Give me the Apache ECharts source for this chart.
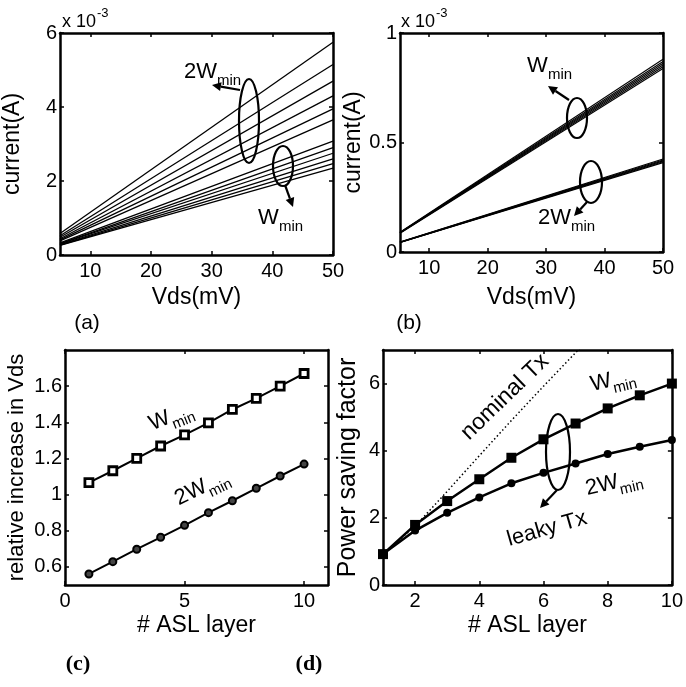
<!DOCTYPE html>
<html>
<head>
<meta charset="utf-8">
<script src="https://cdn.jsdelivr.net/npm/echarts@6/dist/echarts.min.js"></script>
<style>
html,body{margin:0;padding:0;background:#fff;}
#c{width:686px;height:687px;}
</style>
</head>
<body>
<div id="c"></div>
<script>
// ---------- DATA ----------
// (a) current (x 10^-3 A) vs Vds (mV), lines from Vds=5 to Vds=50
const vdsEnds = [5, 50];
const a2WStart = [0.58, 0.52, 0.48, 0.44, 0.41, 0.38];
const a2WEnd   = [5.75, 5.15, 4.70, 4.30, 3.95, 3.65];
const aWStart  = [0.33, 0.31, 0.30, 0.28, 0.27, 0.26];
const aWEnd    = [3.08, 2.90, 2.75, 2.60, 2.47, 2.35];
// (b)
const bWStart  = [0.090, 0.089, 0.088, 0.088, 0.087, 0.086];
const bWEnd    = [0.880, 0.870, 0.862, 0.854, 0.846, 0.838];
const b2WStart = [0.045, 0.045, 0.044, 0.044, 0.043];
const b2WEnd   = [0.425, 0.420, 0.416, 0.412, 0.408];
// (c) relative increase in Vds vs # ASL layer
const layers = [1, 2, 3, 4, 5, 6, 7, 8, 9, 10];
const cWmin  = [1.066, 1.132, 1.200, 1.269, 1.330, 1.397, 1.471, 1.532, 1.600, 1.670];
const c2Wmin = [0.561, 0.629, 0.698, 0.764, 0.830, 0.900, 0.966, 1.035, 1.103, 1.169];
// (d) power saving factor vs # ASL layer
const dWmin  = [0.92, 1.79, 2.50, 3.15, 3.79, 4.34, 4.81, 5.26, 5.65, 6.00];
const d2Wmin = [0.92, 1.62, 2.15, 2.61, 3.03, 3.34, 3.62, 3.90, 4.12, 4.32];
const nominalX = [1, 2, 3, 4, 5, 6, 7, 8];
const nominalY = [0.92, 1.75, 2.79, 3.85, 4.90, 5.92, 6.92, 7.95];
// tick labels
const abXTicks = [10, 20, 30, 40, 50];
const aYTicks = [0, 2, 4, 6];
const bYTicks = [0, 0.5, 1];
const cXTicks = [0, 5, 10];
const cYTicks = [0.6, 0.8, 1.0, 1.2, 1.4, 1.6];
const dXTicks = [2, 4, 6, 8, 10];
const dYTicks = [0, 2, 4, 6];

// ---------- CHART ----------
const FONT = 'Liberation Sans';
const chart = echarts.init(document.getElementById('c'), null, {renderer: 'canvas'});

const grids = [
  {left: 60, top: 33, width: 273, height: 222},
  {left: 400, top: 33, width: 263, height: 219},
  {left: 65, top: 350, width: 263, height: 235},
  {left: 383, top: 350, width: 291, height: 235}
];

function mkX(grid, min, max, ticks, name, nameGap, mirror) {
  return {
    type: 'value', gridIndex: grid, min: min, max: max,
    position: mirror ? 'top' : 'bottom',
    splitLine: {show: false},
    axisLine: {show: true, onZero: false, lineStyle: {color: '#000', width: 2.5}},
    axisTick: {show: true, inside: true, length: 4, customValues: ticks, lineStyle: {color: '#000', width: 1.5}},
    axisLabel: {show: !mirror, customValues: ticks, margin: 6, color: '#000', fontFamily: FONT, fontSize: 20},
    name: mirror ? '' : name, nameLocation: 'middle', nameGap: nameGap,
    nameTextStyle: {color: '#000', fontFamily: FONT, fontSize: 23}
  };
}
function mkY(grid, min, max, ticks, name, nameGap, mirror, fmt, nameSize) {
  return {
    type: 'value', gridIndex: grid, min: min, max: max,
    position: mirror ? 'right' : 'left',
    splitLine: {show: false},
    axisLine: {show: true, onZero: false, lineStyle: {color: '#000', width: 2.5}},
    axisTick: {show: true, inside: true, length: 4, customValues: ticks, lineStyle: {color: '#000', width: 1.5}},
    axisLabel: {show: !mirror, customValues: ticks, margin: 3, color: '#000', fontFamily: FONT, fontSize: 20,
      formatter: fmt || (v => String(v))},
    name: mirror ? '' : name, nameLocation: 'middle', nameGap: nameGap, nameRotate: 90,
    nameTextStyle: {color: '#000', fontFamily: FONT, fontSize: nameSize || 23}
  };
}

const xAxes = [
  mkX(0, 5, 50, abXTicks, 'Vds(mV)', 31, false), mkX(0, 5, 50, abXTicks, '', 0, true),
  mkX(1, 5, 50, abXTicks, 'Vds(mV)', 34, false), mkX(1, 5, 50, abXTicks, '', 0, true),
  mkX(2, 0, 11, cXTicks, '# ASL layer', 29, false), mkX(2, 0, 11, cXTicks, '', 0, true),
  mkX(3, 1, 10, dXTicks, '# ASL layer', 29, false), mkX(3, 1, 10, dXTicks, '', 0, true)
];
const yAxes = [
  mkY(0, 0, 6, aYTicks, 'current(A)', 36, false), mkY(0, 0, 6, aYTicks, '', 0, true),
  mkY(1, 0, 1, bYTicks, 'current(A)', 34, false), mkY(1, 0, 1, bYTicks, '', 0, true),
  mkY(2, 0.5, 1.8, cYTicks, 'relative increase in Vds', 37, false, v => (Math.abs(v - 1) < 1e-9 ? '1' : v.toFixed(1)), 22), mkY(2, 0.5, 1.8, cYTicks, '', 0, true),
  mkY(3, 0, 7, dYTicks, 'Power saving factor', 22, false, null, 25), mkY(3, 0, 7, dYTicks, '', 0, true)
];

const series = [];
function addLines(starts, ends, xi, yi, w) {
  for (let i = 0; i < starts.length; i++) {
    series.push({
      type: 'line', xAxisIndex: xi, yAxisIndex: yi, showSymbol: false, silent: true,
      data: [[vdsEnds[0], starts[i]], [vdsEnds[1], ends[i]]],
      lineStyle: {color: '#000', width: w}
    });
  }
}
addLines(a2WStart, a2WEnd, 0, 0, 1.3);
addLines(aWStart, aWEnd, 0, 0, 1.3);
addLines(bWStart, bWEnd, 2, 2, 1.1);
addLines(b2WStart, b2WEnd, 2, 2, 1.1);

series.push({
  type: 'line', xAxisIndex: 4, yAxisIndex: 4, symbol: 'rect', symbolSize: 8,
  data: layers.map((x, i) => [x, cWmin[i]]),
  lineStyle: {color: '#000', width: 2},
  itemStyle: {color: '#fff', borderColor: '#000', borderWidth: 2.8}
});
series.push({
  type: 'line', xAxisIndex: 4, yAxisIndex: 4, symbol: 'circle', symbolSize: 7,
  data: layers.map((x, i) => [x, c2Wmin[i]]),
  lineStyle: {color: '#000', width: 2},
  itemStyle: {color: '#444', borderColor: '#000', borderWidth: 2}
});
series.push({
  type: 'line', xAxisIndex: 6, yAxisIndex: 6, showSymbol: false, clip: true,
  data: nominalX.map((x, i) => [x, nominalY[i]]),
  lineStyle: {color: '#000', width: 1.5, type: [1.5, 2.5]}
});
series.push({
  type: 'line', xAxisIndex: 6, yAxisIndex: 6, symbol: 'rect', symbolSize: 10,
  data: layers.map((x, i) => [x, dWmin[i]]),
  lineStyle: {color: '#000', width: 2.5},
  itemStyle: {color: '#000'}
});
series.push({
  type: 'line', xAxisIndex: 6, yAxisIndex: 6, symbol: 'circle', symbolSize: 8,
  data: layers.map((x, i) => [x, d2Wmin[i]]),
  lineStyle: {color: '#000', width: 2.5},
  itemStyle: {color: '#000'}
});

// ---------- ANNOTATIONS ----------
// text with subscript, group anchored at left-middle of main text
function subLabel(x, y, main, sub, rot, mainW) {
  return {
    type: 'group', x: x, y: y, rotation: (rot || 0) * Math.PI / 180,
    children: [
      {type: 'text', x: 0, y: 0, style: {text: main, fill: '#000', font: '22px "' + FONT + '"', textVerticalAlign: 'middle'}},
      {type: 'text', x: mainW, y: 9, style: {text: sub, fill: '#000', font: '15px "' + FONT + '"', textVerticalAlign: 'middle'}}
    ]
  };
}
function ell(cx, cy, rx, ry) {
  return {type: 'ellipse', shape: {cx: cx, cy: cy, rx: rx, ry: ry}, style: {fill: 'none', stroke: '#000', lineWidth: 2.2}};
}
function arrow(x1, y1, x2, y2) {
  const ang = Math.atan2(y2 - y1, x2 - x1);
  const L = 9, W = 4.5;
  const bx = x2 - L * Math.cos(ang), by = y2 - L * Math.sin(ang);
  const px = -Math.sin(ang) * W, py = Math.cos(ang) * W;
  return [
    {type: 'line', shape: {x1: x1, y1: y1, x2: bx, y2: by}, style: {stroke: '#000', lineWidth: 2.2}},
    {type: 'polygon', shape: {points: [[x2, y2], [bx + px, by + py], [bx - px, by - py]]}, style: {fill: '#000'}}
  ];
}
const W_W = 21, W_2W = 33;

const graphics = [].concat(
  // exponents
  [
    {type: 'text', x: 62, y: 22, style: {text: 'x 10', fill: '#000', font: '18px "' + FONT + '"', textVerticalAlign: 'middle'}},
    {type: 'text', x: 97, y: 13, style: {text: '-3', fill: '#000', font: '13px "' + FONT + '"', textVerticalAlign: 'middle'}},
    {type: 'text', x: 401, y: 22, style: {text: 'x 10', fill: '#000', font: '18px "' + FONT + '"', textVerticalAlign: 'middle'}},
    {type: 'text', x: 436, y: 13, style: {text: '-3', fill: '#000', font: '13px "' + FONT + '"', textVerticalAlign: 'middle'}}
  ],
  // panel (a)
  [subLabel(184, 72, '2W', 'min', 0, W_2W), ell(249, 121, 10, 42), ell(283, 166, 10, 20),
   subLabel(258, 218, 'W', 'min', 0, W_W)],
  arrow(240, 90, 212, 85),
  arrow(285, 185, 293, 207),
  // panel (b)
  [subLabel(527, 66, 'W', 'min', 0, W_W), ell(577, 118, 10, 20), ell(591, 182, 11, 21),
   subLabel(538, 218, '2W', 'min', 0, W_2W)],
  arrow(569, 100, 548, 86),
  arrow(587, 202, 574, 216),
  // panel (c)
  [subLabel(150, 425, 'W', 'min', 22, W_W), subLabel(176, 500, '2W', 'min', 26, W_2W)],
  // panel (d)
  [{type: 'text', x: 505, y: 397, rotation: 44 * Math.PI / 180,
    style: {text: 'nominal Tx', fill: '#000', font: '23px "' + FONT + '"', textAlign: 'center', textVerticalAlign: 'middle'}},
   subLabel(591, 385, 'W', 'min', 13, W_W), subLabel(586, 489, '2W', 'min', 13, W_2W),
   ell(558, 452, 12, 38),
   {type: 'text', x: 547, y: 529, rotation: 16 * Math.PI / 180,
    style: {text: 'leaky Tx', fill: '#000', font: '22px "' + FONT + '"', textAlign: 'center', textVerticalAlign: 'middle'}}],
  arrow(557, 490, 540, 508),
  // panel labels
  [
    {type: 'text', x: 87, y: 323, style: {text: '(a)', fill: '#000', font: '21px "' + FONT + '"', textAlign: 'center', textVerticalAlign: 'middle'}},
    {type: 'text', x: 409, y: 323, style: {text: '(b)', fill: '#000', font: '21px "' + FONT + '"', textAlign: 'center', textVerticalAlign: 'middle'}},
    {type: 'text', x: 78, y: 664, style: {text: '(c)', fill: '#000', font: 'bold 22px "Liberation Serif"', textAlign: 'center', textVerticalAlign: 'middle'}},
    {type: 'text', x: 309, y: 664, style: {text: '(d)', fill: '#000', font: 'bold 22px "Liberation Serif"', textAlign: 'center', textVerticalAlign: 'middle'}}
  ]
);

chart.setOption({
  animation: false,
  backgroundColor: '#fff',
  grid: grids,
  xAxis: xAxes,
  yAxis: yAxes,
  series: series,
  graphic: graphics
});
</script>
</body>
</html>
